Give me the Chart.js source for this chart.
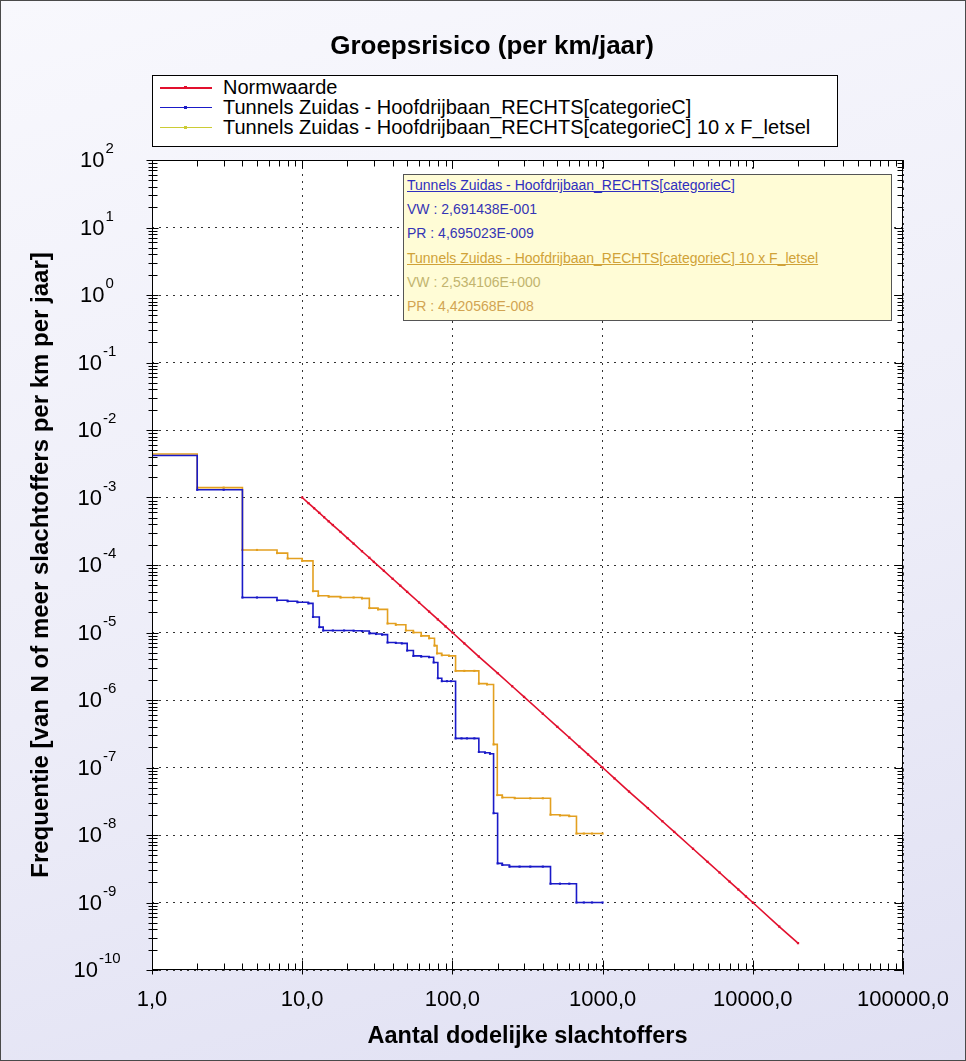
<!DOCTYPE html>
<html>
<head>
<meta charset="utf-8">
<script src="https://cdn.jsdelivr.net/npm/chart.js@4.4.1/dist/chart.umd.min.js"></script>
<style>
  body { margin: 0; background: #fff; }
  #wrap {
    position: relative; width: 966px; height: 1061px; overflow: hidden;
    background: linear-gradient(165deg, #f8f8fd 0%, #ededf8 55%, #e0e0f3 100%);
    font-family: 'Liberation Sans', Arial, sans-serif;
  }
  #frame { position: absolute; left: 0; top: 0; width: 964px; height: 1059px; border: 1px solid #4a4a4a; pointer-events: none; }
  canvas { position: absolute; left: 0; top: 0; }
  #title { position: absolute; left: 0; top: 30px; width: 984px; text-align: center; font-weight: bold; font-size: 26px; line-height: 30px; color: #000; }
  #legend { position: absolute; left: 152px; top: 75px; width: 686px; height: 72px; box-sizing: border-box; border: 1px solid #000; background: #fff; }
  #legend .row { position: absolute; left: 0; height: 20px; line-height: 20px; font-size: 20px; color: #000; white-space: nowrap; }
  #legend .line { position: absolute; left: 7px; top: 10px; width: 52px; height: 1.5px; }
  #legend .dot { position: absolute; left: 31px; top: 9px; width: 3px; height: 3px; }
  #legend .txt { position: absolute; left: 70px; top: 0; }
  #info { position: absolute; left: 403px; top: 174px; width: 489px; height: 147px; box-sizing: border-box; border: 1px solid #555; background: #fffcd6; }
  #info div { position: absolute; left: 3px; height: 18px; line-height: 18px; font-size: 14px; white-space: nowrap; }
</style>
</head>
<body>
<div id="wrap">
  <canvas id="chart" width="966" height="1061"></canvas>
  <div id="title">Groepsrisico (per km/jaar)</div>
  <div id="legend"></div>
  <div id="info"></div>
  <div id="frame"></div>
</div>
<script>
// gegevens
const seriesNames = [
  'Normwaarde',
  'Tunnels Zuidas - Hoofdrijbaan_RECHTS[categorieC]',
  'Tunnels Zuidas - Hoofdrijbaan_RECHTS[categorieC] 10 x F_letsel'
];
const seriesColors = ['#e2102e', '#1a1ac8', '#e3a020'];
const legendColors = ['#e2102e', '#1a1ac8', '#cccc33'];

const normN = [10, 11, 12, 13, 14, 15, 16, 18, 20, 22, 25, 28, 30, 35, 40, 45, 50, 60, 70, 80, 90, 100,
  120, 150, 200, 250, 300, 400, 500, 600, 700, 800, 900, 1000, 1200, 1500, 2000, 2500, 3000, 4000,
  5000, 6000, 7000, 8000, 9000, 10000, 15000, 20000];
const normF = [1e-3, 8.26e-4, 6.94e-4, 5.92e-4, 5.1e-4, 4.44e-4, 3.91e-4, 3.09e-4, 2.5e-4, 2.07e-4, 1.6e-4,
  1.28e-4, 1.11e-4, 8.2e-5, 6.25e-5, 4.94e-5, 4e-5, 2.78e-5, 2.04e-5, 1.56e-5, 1.23e-5, 1e-5,
  6.9e-6, 4.4e-6, 2.5e-6, 1.6e-6, 1.11e-6, 6.25e-7, 4e-7, 2.78e-7, 2.04e-7, 1.56e-7, 1.23e-7, 1e-7,
  6.9e-8, 4.4e-8, 2.5e-8, 1.6e-8, 1.11e-8, 6.25e-9, 4e-9, 2.78e-9, 2.04e-9, 1.56e-9, 1.23e-9, 1e-9,
  4.4e-10, 2.5e-10];

const blueN = [1, 2, 3, 4, 5, 6.8, 8, 9.3, 11, 11.8, 13, 13.8, 16, 19, 22, 25, 28, 31, 34, 37, 42, 46,
  50, 55, 62, 70, 75, 80, 85, 92, 98, 105, 115, 125, 140, 150, 165, 178, 188, 200, 215, 240, 280,
  330, 400, 450, 520, 600, 670, 750, 850, 1000];
const blueF = [4.2e-3, 1.3e-3, 1.3e-3, 3.3e-5, 3.3e-5, 3.0e-5, 2.9e-5, 2.8e-5, 2.7e-5, 1.7e-5, 1.2e-5,
  1.07e-5, 1.07e-5, 1.07e-5, 1.06e-5, 1.05e-5, 9.7e-6, 9.5e-6, 9.3e-6, 7.1e-6, 7.0e-6, 6.9e-6,
  5.4e-6, 4.5e-6, 4.4e-6, 4.3e-6, 3.6e-6, 2.1e-6, 1.9e-6, 1.9e-6, 1.9e-6, 2.7e-7, 2.7e-7, 2.7e-7,
  2.7e-7, 1.7e-7, 1.65e-7, 1.6e-7, 2.1e-8, 3.8e-9, 3.6e-9, 3.4e-9, 3.4e-9, 3.4e-9, 3.4e-9, 1.9e-9,
  1.9e-9, 1.9e-9, 1.0e-9, 1.0e-9, 1.0e-9, 1.0e-9];

const orangeN = [1, 2, 3, 4, 5, 6.8, 8, 10, 11.8, 12.8, 15, 18, 22, 25, 28, 32, 37, 42, 49, 55, 62, 70,
  76, 79, 85, 95, 105, 120, 140, 150, 170, 188, 199, 215, 260, 330, 400, 450, 520, 600, 670, 750,
  850, 1000];
const orangeF = [4.4e-3, 1.4e-3, 1.4e-3, 1.67e-4, 1.67e-4, 1.5e-4, 1.25e-4, 1.15e-4, 4.1e-5, 3.5e-5,
  3.4e-5, 3.3e-5, 3.3e-5, 3.2e-5, 2.3e-5, 2.2e-5, 1.36e-5, 1.3e-5, 1.07e-5, 1.0e-5, 8.9e-6, 8.2e-6,
  6.4e-6, 4.9e-6, 4.6e-6, 4.5e-6, 2.7e-6, 2.7e-6, 2.7e-6, 1.75e-6, 1.7e-6, 2.2e-7, 3.9e-8, 3.6e-8,
  3.5e-8, 3.5e-8, 3.5e-8, 2.0e-8, 1.95e-8, 1.9e-8, 1.05e-8, 1.05e-8, 1.05e-8, 1.05e-8];

const xTickLabels = ['1,0', '10,0', '100,0', '1000,0', '10000,0', '100000,0'];
const yExponents = [2, 1, 0, -1, -2, -3, -4, -5, -6, -7, -8, -9, -10];

const infoLines = [
  { text: 'Tunnels Zuidas - Hoofdrijbaan_RECHTS[categorieC]', color: '#2f2fbf', underline: true },
  { text: 'VW : 2,691438E-001', color: '#3535b5' },
  { text: 'PR : 4,695023E-009', color: '#3535b5' },
  { text: 'Tunnels Zuidas - Hoofdrijbaan_RECHTS[categorieC] 10 x F_letsel', color: '#d0a238', underline: true },
  { text: 'VW : 2,534106E+000', color: '#c2b46e' },
  { text: 'PR : 4,420568E-008', color: '#d2a452' }
];

const FONT = "'Liberation Sans', Arial, sans-serif";

// legenda (HTML)
const legendEl = document.getElementById('legend');
seriesNames.forEach((name, i) => {
  const row = document.createElement('div');
  row.className = 'row';
  row.style.top = (1 + i * 19.8) + 'px';
  row.style.width = '680px';
  row.innerHTML = '<span class="line" style="background:' + legendColors[i] + '"></span>' +
    '<span class="dot" style="background:' + legendColors[i] + '"></span>' +
    '<span class="txt"></span>';
  row.querySelector('.txt').textContent = name;
  legendEl.appendChild(row);
});

// infovak
const infoEl = document.getElementById('info');
infoLines.forEach((l, i) => {
  const d = document.createElement('div');
  d.textContent = l.text;
  d.style.top = (1 + i * 24.2) + 'px';
  d.style.color = l.color;
  if (l.underline) d.style.textDecoration = 'underline';
  infoEl.appendChild(d);
});

const isDecade = v => Math.abs(Math.log10(v) - Math.round(Math.log10(v))) < 1e-9;

function logTicks(fromExp, toExp) {
  const out = [];
  for (let e = fromExp; e < toExp; e++) {
    for (let k = 1; k <= 9; k++) out.push({ value: k * Math.pow(10, e) });
  }
  out.push({ value: Math.pow(10, toExp) });
  return out;
}

const toPoints = (ns, fs) => ns.map((n, i) => ({ x: n, y: fs[i] }));

// plotvlak wit, kader, tickjes en y-labels met exponent
const frameTicks = {
  id: 'frameTicks',
  beforeDraw(chart) {
    const { ctx, chartArea: a } = chart;
    ctx.save();
    ctx.fillStyle = '#fff';
    ctx.fillRect(a.left, a.top, a.right - a.left, a.bottom - a.top);
    ctx.restore();
  },
  afterDatasetsDraw(chart) {
    const { ctx, chartArea: a, scales: { x, y } } = chart;
    const L = Math.round(a.left) + 0.5, R = Math.round(a.right) - 0.5;
    const T = Math.round(a.top) + 0.5, B = Math.round(a.bottom) - 0.5;
    ctx.save();
    ctx.strokeStyle = '#000';
    ctx.lineWidth = 1;
    ctx.beginPath();
    ctx.rect(L, T, R - L, B - T);
    x.ticks.forEach(t => {
      const px = Math.round(x.getPixelForValue(t.value)) + 0.5;
      const major = isDecade(t.value);
      ctx.moveTo(px, B + (major ? 5 : 1));
      ctx.lineTo(px, B - (major ? 9 : 6));
      ctx.moveTo(px, T);
      ctx.lineTo(px, T + (major ? 8 : 6));
    });
    y.ticks.forEach(t => {
      const py = Math.round(y.getPixelForValue(t.value)) + 0.5;
      const major = isDecade(t.value);
      ctx.moveTo(L - (major ? 6 : 4), py);
      ctx.lineTo(L + (major ? 6 : 5), py);
      ctx.moveTo(R + 1, py);
      ctx.lineTo(R - (major ? 8 : 5), py);
    });
    ctx.stroke();
    ctx.restore();
  },
  afterDraw(chart) {
    const { ctx, scales: { y } } = chart;
    ctx.save();
    ctx.fillStyle = '#000';
    yExponents.forEach(e => {
      const py = y.getPixelForValue(Math.pow(10, e));
      const expTxt = String(e);
      ctx.font = '22px ' + FONT;
      const w10 = ctx.measureText('10').width;
      ctx.font = '15px ' + FONT;
      const wExp = ctx.measureText(expTxt).width;
      const start = 97 - (w10 + wExp + 1) / 2;
      ctx.font = '22px ' + FONT;
      ctx.textBaseline = 'middle';
      ctx.textAlign = 'left';
      ctx.fillText('10', start, py + 1);
      ctx.font = '15px ' + FONT;
      ctx.textBaseline = 'alphabetic';
      ctx.fillText(expTxt, start + w10 + 1, py - 7);
    });
    ctx.restore();
  }
};

const ctx = document.getElementById('chart').getContext('2d');
new Chart(ctx, {
  type: 'line',
  data: {
    datasets: [
      {
        label: seriesNames[0],
        data: toPoints(normN, normF),
        borderColor: seriesColors[0],
        backgroundColor: seriesColors[0],
        borderWidth: 1.6,
        pointRadius: 1.6,
        pointStyle: 'rect',
        pointBorderWidth: 0,
        order: 3
      },
      {
        label: seriesNames[2],
        data: toPoints(orangeN, orangeF),
        borderColor: seriesColors[2],
        backgroundColor: seriesColors[2],
        borderWidth: 1.6,
        pointRadius: 1.5,
        pointStyle: 'rect',
        pointBorderWidth: 0,
        stepped: true,
        order: 2
      },
      {
        label: seriesNames[1],
        data: toPoints(blueN, blueF),
        borderColor: seriesColors[1],
        backgroundColor: seriesColors[1],
        borderWidth: 1.6,
        pointRadius: 1.5,
        pointStyle: 'rect',
        pointBorderWidth: 0,
        stepped: true,
        order: 1
      }
    ]
  },
  options: {
    responsive: false,
    animation: false,
    events: [],
    layout: { padding: { left: 0, right: 63, top: 160, bottom: 0 } },
    plugins: {
      legend: { display: false },
      title: { display: false },
      tooltip: { enabled: false }
    },
    scales: {
      x: {
        type: 'logarithmic',
        min: 1,
        max: 100000,
        afterBuildTicks: s => { s.ticks = logTicks(0, 5); },
        afterFit: s => { s.height = 91; },
        grid: {
          color: c => (c.tick && isDecade(c.tick.value)) ? '#333' : 'rgba(0,0,0,0)',
          lineWidth: 1,
          drawTicks: false
        },
        border: { display: false, dash: [2, 5] },
        ticks: {
          autoSkip: false,
          maxRotation: 0,
          minRotation: 0,
          padding: 17,
          color: '#000',
          font: { family: FONT, size: 22 },
          callback: v => isDecade(v) ? xTickLabels[Math.round(Math.log10(v))] : ''
        },
        title: {
          display: true,
          text: 'Aantal dodelijke slachtoffers',
          color: '#000',
          font: { family: FONT, size: 23.5, weight: 'bold' },
          padding: { top: 0, bottom: 10 }
        }
      },
      y: {
        type: 'logarithmic',
        min: 1e-10,
        max: 100,
        afterBuildTicks: s => { s.ticks = logTicks(-10, 2); },
        afterFit: s => { s.width = 152; },
        grid: {
          color: c => (c.tick && isDecade(c.tick.value)) ? '#333' : 'rgba(0,0,0,0)',
          lineWidth: 1,
          drawTicks: false
        },
        border: { display: false, dash: [2, 5] },
        ticks: { display: false },
        title: {
          display: true,
          text: 'Frequentie [van N of meer slachtoffers per km per jaar]',
          color: '#000',
          font: { family: FONT, size: 24, weight: 'bold' },
          padding: { top: 27, bottom: 0 }
        }
      }
    }
  },
  plugins: [frameTicks]
});
</script>
</body>
</html>
